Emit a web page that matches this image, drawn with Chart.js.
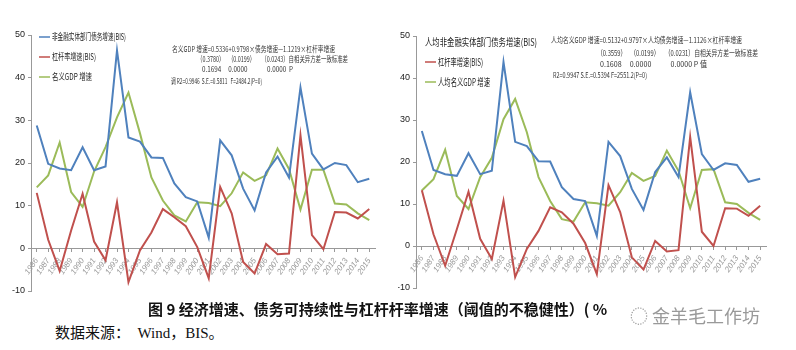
<!DOCTYPE html>
<html>
<head>
<meta charset="utf-8">
<script src="https://cdn.jsdelivr.net/npm/chart.js@4"></script>
<style>
  body { margin: 0; background: #fff; width: 796px; height: 350px; position: relative; overflow: hidden; }
  .box { position: absolute; top: 0; height: 300px; }
  #caption { position: absolute; left: 148px; top: 298px; font: bold 15px "Noto Sans CJK SC", sans-serif; color: #111; white-space: nowrap; }
  #source { position: absolute; left: 55px; top: 321px; font: 15px "Liberation Serif", "Noto Sans CJK SC", serif; color: #111; white-space: nowrap; }
  #mark { position: absolute; left: 630px; top: 302px; font: 18px "Noto Sans CJK SC", sans-serif; color: #999; white-space: nowrap; }
</style>
</head>
<body>
<div class="box" style="left:0;width:395px"><canvas id="chartLeft" width="395" height="300"></canvas></div>
<div class="box" style="left:398px;width:398px"><canvas id="chartRight" width="398" height="300"></canvas></div>
<div id="caption">图 9 经济增速、债务可持续性与杠杆杆率增速（阈值的不稳健性）( %</div>
<div id="source">数据来源：&nbsp; Wind，BIS。</div>
<div id="mark">◌ 金羊毛工作坊</div>

<script>
// === DONNEES ===
const years = ["1986","1987","1988","1989","1990","1991","1992","1993","1994","1995",
    "1996","1997","1998","1999","2000","2001","2002","2003","2004","2005",
    "2006","2007","2008","2009","2010","2011","2012","2013","2014","2015"];

const yTicks = [-10, 0, 10, 20, 30, 40, 50];

// gauche
const debtGrowth = [28.8, 19.8, 18.7, 18.3, 23.7, 18.3, 19.2, 46.4, 26.0, 25.0,
    21.3, 21.2, 15.2, 12.0, 11.0, 2.5, 25.3, 21.8, 14.0, 8.9,
    17.8, 21.5, 16.6, 37.7, 22.2, 18.5, 20.0, 19.5, 15.5, 16.3];
const leverageGrowth = [13.0, 2.0, -5.3, 4.2, 12.8, 1.6, -2.8, 10.8, -7.9, -0.5,
    3.7, 9.2, 7.3, 5.2, 0.3, -7.0, 14.4, 8.2, -3.2, -5.9,
    1.0, -1.4, -1.2, 26.5, 3.1, -0.2, 8.5, 8.4, 7.0, 9.2];
const gdpGrowth = [14.3, 17.1, 24.8, 13.2, 9.7, 18.0, 23.7, 30.7, 36.5, 27.0,
    16.6, 11.2, 7.7, 6.3, 10.8, 10.6, 9.9, 12.9, 17.8, 15.8,
    17.1, 23.4, 18.6, 9.1, 18.4, 18.4, 10.5, 10.3, 8.2, 6.6];

// droite
const debtGrowthPc = [27.4, 18.1, 17.1, 16.7, 22.1, 17.1, 17.9, 43.8, 24.8, 23.8,
    20.2, 20.1, 14.0, 11.2, 10.7, 2.4, 24.8, 21.4, 13.6, 8.6,
    17.6, 21.1, 16.4, 36.6, 21.9, 18.1, 19.7, 19.3, 15.3, 16.0];
const leverageGrowthPc = [13.3, 2.8, -4.7, 4.0, 12.9, 1.7, -3.1, 10.8, -7.4, -0.7,
    3.6, 9.2, 8.0, 5.3, 0.7, -6.7, 14.5, 8.1, -2.7, -5.6,
    1.2, -1.3, -1.0, 26.0, 3.4, 0.0, 9.0, 8.9, 7.2, 9.6];
const gdpGrowthPc = [13.2, 15.9, 22.9, 11.9, 8.8, 16.4, 21.0, 30.2, 35.0, 27.1,
    16.4, 10.7, 6.4, 5.8, 10.4, 10.2, 9.6, 12.8, 17.4, 15.5,
    16.7, 22.7, 17.9, 9.0, 18.1, 18.3, 10.4, 10.0, 7.9, 6.2];

const leftLabels = ["非金融实体部门债务增速(BIS)", "杠杆率增速(BIS)", "名义GDP 增速"];
const rightLabels = ["人均非金融实体部门债务增速(BIS)", "杠杆率增速(BIS)", "人均名义GDP 增速"];

const leftNotes = [
    "名义GDP 增速=0.5336+0.9798×债务增速—1.1219×杠杆率增速",
    "（0.3780）   （0.0199）     （0.0243）自相关异方差一致标准差",
    "0.1694     0.0000              0.0000  P",
    "调 R2=0.9946  S.E.=0.5811   F=2484.2(P=0)"
];
const rightNotes = [
    "人均名义GDP 增速=0.5132+0.9797×人均债务增速—1.1126×杠杆率增速",
    "（0.3559）   （0.0199）    （0.0231）自相关异方差一致标准差",
    "0.1608     0.0000            0.0000 P 值",
    "R2=0.9947 S.E.=0.5394 F=2551.2(P=0)"
];

const BLUE = "#4F81BD", RED = "#C0504D", GREEN = "#9BBB59";

// === PLUGIN LEGENDE + NOTES ===
const overlayPlugin = {
    id: "overlay",
    afterDraw(chart, args, opts) {
        const ctx = chart.ctx;
        ctx.save();
        // legende
        ctx.font = opts.legendFont;
        ctx.textBaseline = "middle";
        chart.data.datasets.forEach((ds, i) => {
            let y = opts.legendY + i * opts.legendGap;
            if (opts.showLine[i]) {
                ctx.strokeStyle = ds.borderColor;
                ctx.lineWidth = 1.5;
                ctx.beginPath();
                ctx.moveTo(opts.legendX, y);
                ctx.lineTo(opts.legendX + 11, y);
                ctx.stroke();
            }
            ctx.fillStyle = "#222";
            ctx.fillText(ds.label, opts.legendX + opts.textShift[i], y, opts.legendW[i]);
        });
        // notes de regression
        ctx.font = opts.noteFont;
        ctx.fillStyle = "#333";
        opts.notes.forEach((t, i) => {
            ctx.fillText(t, opts.noteX[i], opts.noteY[i], opts.noteW[i]);
        });
        ctx.restore();
    }
};

// === CREATION D'UN GRAPHIQUE ===
function makeChart(id, labels, series, yWidth, pad, overlay) {
    const colors = [BLUE, RED, GREEN];
    return new Chart(document.getElementById(id), {
        type: "line",
        data: {
            labels: years,
            datasets: series.map((s, i) => ({
                label: labels[i],
                data: s,
                borderColor: colors[i],
                backgroundColor: colors[i],
                borderWidth: 2,
                pointRadius: 0,
                tension: 0
            }))
        },
        options: {
            responsive: false,
            animation: false,
            layout: { padding: pad },
            plugins: {
                legend: { display: false },
                tooltip: { enabled: false },
                overlay: overlay
            },
            scales: {
                x: {
                    position: { y: 0 },
                    offset: true,
                    afterFit(scale) { scale.height = 0; },
                    grid: { display: true, drawOnChartArea: false, color: "#999", tickLength: 3, offset: false },
                    border: { color: "#999" },
                    ticks: {
                        autoSkip: false,
                        minRotation: 56,
                        maxRotation: 56,
                        padding: 5,
                        color: "#999",
                        font: { family: "Liberation Sans", size: 8, style: "italic" }
                    }
                },
                y: {
                    min: -10,
                    max: 50,
                    afterFit(scale) { scale.width = yWidth; },
                    afterBuildTicks(scale) { scale.ticks = yTicks.map(v => ({ value: v })); },
                    grid: { display: true, drawOnChartArea: false, color: "#999", tickLength: 3 },
                    border: { color: "#999" },
                    ticks: {
                        color: "#222",
                        padding: 3,
                        font: { family: "Liberation Sans", size: 9 }
                    }
                }
            }
        },
        plugins: [overlayPlugin]
    });
}

makeChart("chartLeft", leftLabels, [debtGrowth, leverageGrowth, gdpGrowth], 31,
    { left: 0, top: 35, right: 20, bottom: 9 },
    {
        legendX: 39, legendY: 37, legendGap: 20, showLine: [true, true, true], textShift: [13, 13, 13],
        legendW: [74, 44, 40],
        legendFont: "9px 'Noto Sans CJK SC'",
        notes: leftNotes,
        noteX: [172, 197, 202, 171],
        noteY: [49, 59, 69, 81],
        noteW: [163, 151, 91, 91],
        noteFont: "8px 'Noto Sans CJK SC'"
    });

makeChart("chartRight", rightLabels, [debtGrowthPc, leverageGrowthPc, gdpGrowthPc], 18,
    { left: 0, top: 36, right: 30, bottom: 12 },
    {
        legendX: 27, legendY: 42, legendGap: 20, showLine: [false, true, true], textShift: [0, 13, 13],
        legendW: [112, 45, 52],
        legendFont: "10px 'Noto Sans CJK SC'",
        notes: rightNotes,
        noteX: [153, 199, 202, 155],
        noteY: [40, 53, 64, 75],
        noteW: [191, 161, 107, 94],
        noteFont: "8px 'Noto Sans CJK SC'"
    });
</script>
</body>
</html>
